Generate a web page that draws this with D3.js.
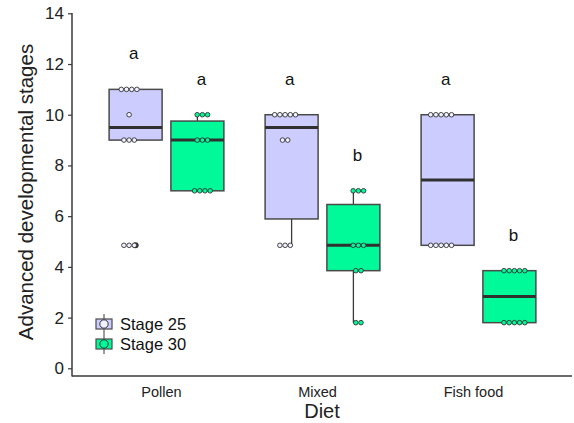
<!DOCTYPE html>
<html>
<head>
<meta charset="utf-8">
<script src="https://cdn.jsdelivr.net/npm/d3@7"></script>
<style>
  html, body { margin: 0; padding: 0; background: #fff; }
  svg { display: block; font-family: "Liberation Sans", Arial, sans-serif; }
</style>
</head>
<body>
<svg id="chart" width="574" height="423"></svg>
<script>
// Diet groups and developmental stage series
const diets = ["Pollen", "Mixed", "Fish food"];
const stages = ["Stage 25", "Stage 30"];
const stageColors = ["#ccccff", "#00fa9a"];

// Box summaries per diet: [lower whisker, Q1, median, Q3, upper whisker]
const stage25Box = [
  [9, 9, 9.5, 11, 11],
  [4.85, 5.89, 9.5, 10, 10],
  [4.85, 4.85, 7.43, 10, 10]
];
const stage30Box = [
  [7, 7, 9, 9.75, 10],
  [1.8, 3.85, 4.85, 6.46, 7],
  [1.8, 1.8, 2.83, 3.85, 3.85]
];

// Outlying values beyond the whiskers
const stage25Outliers = [[4.85], [], []];
const stage30Outliers = [[], [], []];

// Individual observations
const stage25Points = [
  [11, 11, 11, 11, 10, 9, 9, 9, 4.85, 4.85, 4.85],
  [10, 10, 10, 10, 10, 9, 9, 4.85, 4.85, 4.85],
  [10, 10, 10, 10, 10, 4.85, 4.85, 4.85, 4.85, 4.85]
];
const stage30Points = [
  [10, 10, 10, 9, 9, 9, 7, 7, 7, 7],
  [7, 7, 7, 4.85, 4.85, 4.85, 3.85, 3.85, 1.8, 1.8],
  [3.85, 3.85, 3.85, 3.85, 3.85, 1.8, 1.8, 1.8, 1.8, 1.8]
];

// Significance letters
const stage25Letters = ["a", "a", "a"];
const stage30Letters = ["a", "b", "b"];

// Y axis ticks
const yTicks = [0, 2, 4, 6, 8, 10, 12, 14];

const svg = d3.select("#chart");
const axisLeft = 72, axisBottom = 376, axisTop = 13, axisRight = 572;

const x = d3.scaleBand().domain(diets).range([88.5, 556.5]).paddingInner(0).paddingOuter(0);
const sub = d3.scaleBand().domain(stages).range([-59, 59]).paddingInner(0.1).paddingOuter(0.005);
const y = d3.scaleLinear().domain([0, 14]).range([368.3, 13.3]);

const ink = "#3a3a3a";
const boxW = 53;
const dotR = 2.3, dotStep = 5.2;
const dotShift = [-6.5, 5];
const letterShift = [-2, 4];

const series = [
  { box: stage25Box, out: stage25Outliers, pts: stage25Points, letters: stage25Letters },
  { box: stage30Box, out: stage30Outliers, pts: stage30Points, letters: stage30Letters }
];

// Axes
const yAxis = d3.axisLeft(y).tickValues(yTicks).tickSize(4).tickPadding(4).tickFormat(d3.format("d"));
const gy = svg.append("g").attr("transform", `translate(${axisLeft},0)`).call(yAxis);
gy.select(".domain").remove();
gy.selectAll(".tick line").attr("stroke", ink).attr("stroke-width", 1.2);
gy.selectAll(".tick text").attr("fill", "#222").style("font-size", "17px");
svg.append("line").attr("x1", axisLeft).attr("x2", axisLeft).attr("y1", axisTop).attr("y2", axisBottom + 0.6)
  .attr("stroke", ink).attr("stroke-width", 1.5);

const xAxis = d3.axisBottom(x).tickSize(0).tickPadding(11);
const gx = svg.append("g").attr("transform", `translate(0,${axisBottom})`).call(xAxis);
gx.select(".domain").remove();
gx.selectAll(".tick text").attr("fill", "#222").attr("dx", -5).style("font-size", "14.5px");
svg.append("line").attr("x1", axisLeft).attr("x2", axisRight).attr("y1", axisBottom).attr("y2", axisBottom)
  .attr("stroke", ink).attr("stroke-width", 1.5);

// Axis titles
svg.append("text").attr("x", 322).attr("y", 418).attr("text-anchor", "middle")
  .attr("fill", "#222").style("font-size", "20px").text("Diet");
svg.append("text").attr("transform", "translate(33,192) rotate(-90)").attr("text-anchor", "middle")
  .attr("fill", "#222").style("font-size", "20.5px").text("Advanced developmental stages");

// Boxes, whiskers, points, letters
series.forEach((s, si) => {
  diets.forEach((diet, di) => {
    const cx = x(diet) + x.bandwidth() / 2 + sub(stages[si]) + sub.bandwidth() / 2;
    const [lo, q1, med, q3, hi] = s.box[di];
    const g = svg.append("g");
    // whiskers
    g.append("line").attr("x1", cx).attr("x2", cx).attr("y1", y(q3)).attr("y2", y(hi))
      .attr("stroke", ink).attr("stroke-width", 1.3);
    g.append("line").attr("x1", cx).attr("x2", cx).attr("y1", y(q1)).attr("y2", y(lo))
      .attr("stroke", ink).attr("stroke-width", 1.3);
    // box
    g.append("rect").attr("x", cx - boxW / 2).attr("width", boxW)
      .attr("y", y(q3)).attr("height", y(q1) - y(q3))
      .attr("fill", stageColors[si]).attr("stroke", "#4a4a4a").attr("stroke-width", 1.5);
    // median
    g.append("line").attr("x1", cx - boxW / 2).attr("x2", cx + boxW / 2)
      .attr("y1", y(med)).attr("y2", y(med)).attr("stroke", "#303030").attr("stroke-width", 3);
    // outliers
    s.out[di].forEach(v => {
      g.append("circle").attr("cx", cx).attr("cy", y(v)).attr("r", 3).attr("fill", "#333");
    });
    // observations stacked side by side within each value
    const dx = cx + dotShift[si];
    const groups = d3.groups(s.pts[di], v => v);
    groups.forEach(([v, arr]) => {
      arr.forEach((_, i) => {
        g.append("circle")
          .attr("cx", dx + (i - (arr.length - 1) / 2) * dotStep)
          .attr("cy", y(v)).attr("r", dotR)
          .attr("fill", si === 0 ? "#f0f0ff" : stageColors[si])
          .attr("stroke", "#333").attr("stroke-width", 0.9);
      });
    });
    // letter above the upper whisker
    g.append("text").attr("x", cx + letterShift[si]).attr("y", y(hi) - 30)
      .attr("text-anchor", "middle").attr("fill", "#111").style("font-size", "17px")
      .text(s.letters[di]);
  });
});

// Legend
const legend = svg.append("g").attr("transform", "translate(104,324)");
stages.forEach((st, i) => {
  const row = legend.append("g").attr("transform", `translate(0,${i * 20})`);
  row.append("line").attr("x1", 0).attr("x2", 0).attr("y1", -10).attr("y2", 10)
    .attr("stroke", ink).attr("stroke-width", 1);
  row.append("rect").attr("x", -8).attr("y", -5).attr("width", 16).attr("height", 10)
    .attr("fill", stageColors[i]).attr("stroke", "#4a4a4a").attr("stroke-width", 1.2);
  row.append("circle").attr("r", 4.2).attr("fill", i === 0 ? "#f0f0ff" : stageColors[i])
    .attr("stroke", "#333").attr("stroke-width", 1);
  row.append("text").attr("x", 16).attr("y", 6).attr("fill", "#111")
    .style("font-size", "16.5px").text(st);
});
</script>
</body>
</html>
